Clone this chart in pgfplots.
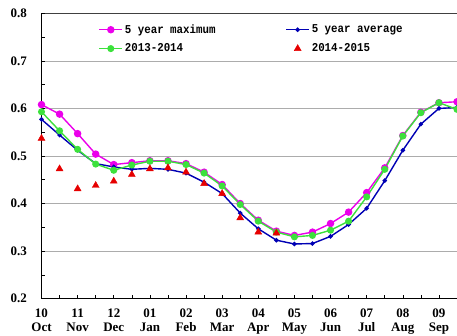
\documentclass[border=0pt]{standalone}
\usepackage{fontspec}
\setmainfont{Liberation Serif}
\newfontfamily\monofont[FakeStretch=0.9]{Liberation Mono}
\usepackage{pgfplots}
\pgfplotsset{compat=1.18}

\definecolor{cmax}{RGB}{235,0,235}
\definecolor{cavg}{RGB}{0,0,180}
\definecolor{cold}{RGB}{60,225,60}
\definecolor{cnew}{RGB}{230,0,0}

\begin{document}
\begin{tikzpicture}
\begin{axis}[
    scale only axis,
    width=415.5pt, height=285.4pt,
    xmin=0, xmax=11.5,
    ymin=0.2, ymax=0.8,
    axis x line*=bottom, axis y line*=left,
    axis line style={-, black, line width=0.9pt},
    xtick={0,1,2,3,4,5,6,7,8,9,10,11},
    minor xtick={0.5,1.5,2.5,3.5,4.5,5.5,6.5,7.5,8.5,9.5,10.5,11.5},
    xticklabels={{10\\Oct},{11\\Nov},{12\\Dec},{01\\Jan},{02\\Feb},{03\\Mar},
                 {04\\Apr},{05\\May},{06\\Jun},{07\\Jul},{08\\Aug},{09\\Sep}},
    xticklabel style={align=center, font=\fontsize{13}{13.5}\selectfont\bfseries, yshift=-7pt},
    ytick={0.2,0.3,0.4,0.5,0.6,0.7,0.8},
    minor ytick={0.25,0.35,0.45,0.55,0.65,0.75},
    yticklabel style={font=\fontsize{13}{14}\selectfont\bfseries, xshift=-11pt},
    /pgf/number format/.cd, fixed, fixed zerofill, precision=1, assume math mode=true,
    /pgfplots/.cd,
    tick align=inside,
    tick style={black, line width=0.6pt},
    major tick length=3.5pt, minor tick length=3.5pt,
    ymajorgrids,
    grid style={gray!65, line width=0.6pt},
    extra y ticks={0.8}, extra y tick labels={},
    extra y tick style={grid style={black!75, line width=0.9pt}},
    legend columns=2,
    legend cell align=left,
    legend image code/.code={\draw[mark repeat=2,mark phase=2] plot coordinates {(0cm,0cm) (0.4cm,0cm) (0.8cm,0cm)};},
    legend style={draw=none, fill=none, at={(0.13,0.975)}, anchor=north west,
        font=\monofont\bfseries\fontsize{12}{13}\selectfont,
        /tikz/every even column/.append style={column sep=68pt},
        row sep=5pt},
]
\addplot[color=cmax, line width=1.4pt, mark=*, mark size=3pt, mark options={fill=cmax}] coordinates {
(0,0.608) (0.5,0.588) (1,0.547) (1.5,0.504) (2,0.482) (2.5,0.486) (3,0.490) (3.5,0.490)
(4,0.484) (4.5,0.466) (5,0.440) (5.5,0.400) (6,0.365) (6.5,0.342) (7,0.333) (7.5,0.340)
(8,0.358) (8.5,0.382) (9,0.423) (9.5,0.475) (10,0.543) (10.5,0.592) (11,0.612) (11.5,0.614)
};
\addlegendentry{5 year maximum}
\addplot[color=cavg, line width=1.4pt, mark=*, mark size=1.5pt] coordinates {
(0,0.577) (0.5,0.544) (1,0.512) (1.5,0.484) (2,0.477) (2.5,0.472) (3,0.474) (3.5,0.472)
(4,0.464) (4.5,0.445) (5,0.421) (5.5,0.380) (6,0.347) (6.5,0.323) (7,0.315) (7.5,0.316)
(8,0.331) (8.5,0.356) (9,0.390) (9.5,0.448) (10,0.512) (10.5,0.567) (11,0.600) (11.5,0.602)
};
\addlegendentry{5 year average}
\addplot[color=cold, line width=1.4pt, mark=*, mark size=2.8pt, mark options={fill=cold}] coordinates {
(0,0.593) (0.5,0.553) (1,0.514) (1.5,0.483) (2,0.470) (2.5,0.481) (3,0.489) (3.5,0.489)
(4,0.482) (4.5,0.464) (5,0.437) (5.5,0.398) (6,0.363) (6.5,0.340) (7,0.330) (7.5,0.333)
(8,0.344) (8.5,0.363) (9,0.414) (9.5,0.472) (10,0.542) (10.5,0.591) (11,0.612) (11.5,0.598)
};
\addlegendentry{2013-2014}
\addplot[color=cnew, only marks, mark=triangle*, mark size=4pt] coordinates {
(0,0.537) (0.5,0.473) (1,0.431) (1.5,0.438) (2,0.447) (2.5,0.461) (3,0.473) (3.5,0.475)
(4,0.466) (4.5,0.442) (5,0.421) (5.5,0.370) (6,0.340) (6.5,0.338)
};
\addlegendentry{2014-2015}
\end{axis}
\pgfresetboundingbox
\useasboundingbox ([xshift=-41.5pt,yshift=-37.3pt]current axis.south west) rectangle ([yshift=13.3pt]current axis.north east);
\end{tikzpicture}
\end{document}
